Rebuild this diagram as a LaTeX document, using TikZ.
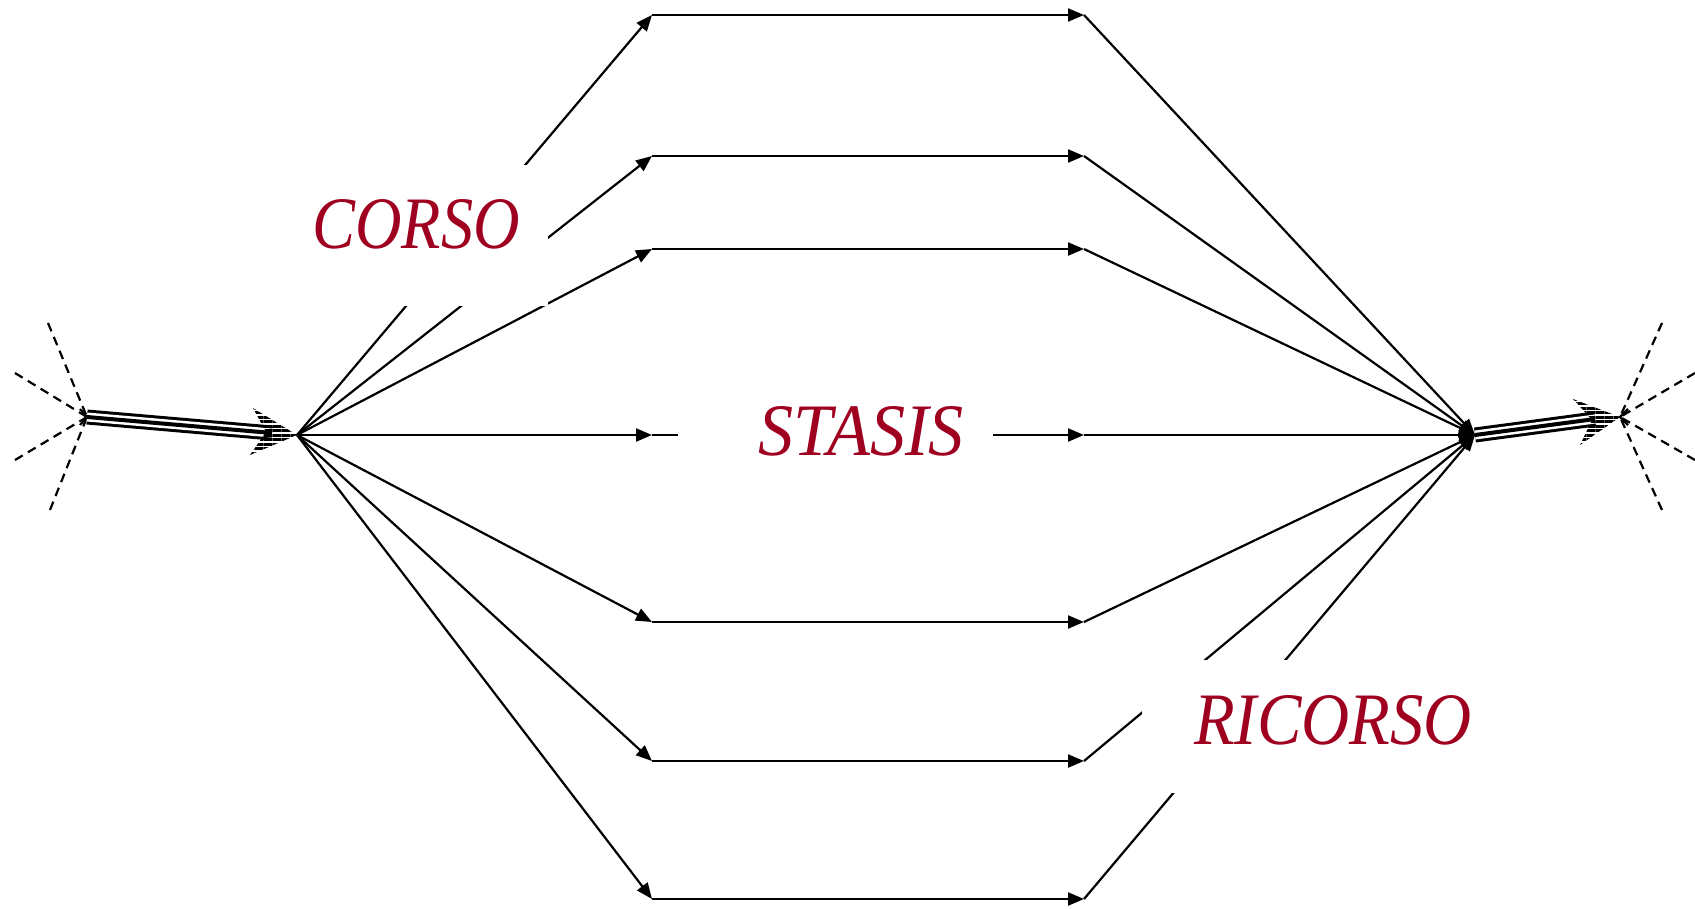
\documentclass[tikz,border=0pt]{standalone}
\usepackage{fontspec}
\newfontfamily\lblfont{Liberation Serif}
\usetikzlibrary{arrows.meta,patterns.meta}
\definecolor{lbl}{RGB}{160,0,32}
\begin{document}
\begin{tikzpicture}[x=1pt,y=-1pt,
  flow/.style={line width=2.2pt,-{Triangle[length=16pt,width=13pt]}},
  starline/.style={line width=2.2pt,dash pattern=on 9pt off 6pt},
  triple/.style={line width=15pt,postaction={draw=white,line width=9pt},postaction={draw=black,line width=4pt}},
  stripes/.style={pattern={Lines[angle=0,distance=4.5pt,line width=3pt]}},
  maskbox/.style={fill=white,draw=none},
  lbltext/.style={text=lbl,font=\lblfont\fontsize{74}{84}\selectfont\itshape,inner sep=0pt}]
\useasboundingbox (0,0) rectangle (1695,908);
% hubs and stars
\coordinate (sL) at (87,417);
\coordinate (hubL) at (297,435);
\coordinate (hubR) at (1475,435);
\coordinate (sR) at (1620,417);
% columns
\foreach \i/\y in {1/15,2/156,3/249,4/435,5/622,6/761,7/899}{
  \coordinate (a\i) at (652,\y);
  \coordinate (b\i) at (1084,\y);
}
% star endpoints
\coordinate (l1) at (48,323); \coordinate (l2) at (15,373);
\coordinate (l3) at (15,460); \coordinate (l4) at (50,510);
\coordinate (r1) at (1662,323); \coordinate (r2) at (1695,373);
\coordinate (r3) at (1695,460); \coordinate (r4) at (1662,510);
\foreach \p in {l1,l2,l3,l4}{\draw[starline] (\p) -- (sL);}
\foreach \p in {r1,r2,r3,r4}{\draw[starline] (\p) -- (sR);}
\draw[line width=2.2pt] (80,409) -- (sL) -- (80,425);
\draw[line width=2.2pt] (1628,409) -- (sR) -- (1628,425);
% triple arrows
\draw[triple] (sL) -- (272,433);
\fill[stripes] (hubL) -- (253,408) -- (266,432) -- (250,455) -- cycle;
\draw[triple] (hubR) -- (1595,419);
\fill[stripes] (sR) -- (1573,399) -- (1592,420) -- (1580,445) -- cycle;
% network
\foreach \i in {1,...,7}{
  \draw[flow] (hubL) -- (a\i);
  \draw[flow] (a\i) -- (b\i);
  \draw[flow] (b\i) -- (hubR);
}
% label masks and labels
\fill[maskbox] (284,165) rectangle (548,306);
\fill[maskbox] (678,398) rectangle (993,472);
\fill[maskbox] (1142,660) rectangle (1524,793);
\node[lbltext] (corso) at (416,224) {\scalebox{0.87}[1]{CORSO}};
\node[lbltext] (stasis) at (861,431) {\scalebox{0.95}[1]{STASIS}};
\node[lbltext] (ricorso) at (1333,720) {\scalebox{0.9}[1]{RICORSO}};
\end{tikzpicture}
\end{document}
